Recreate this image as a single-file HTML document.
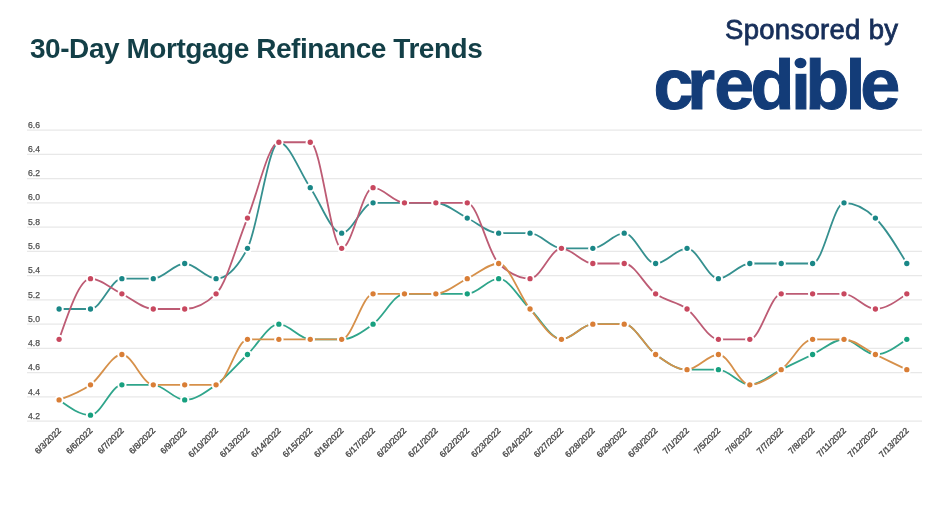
<!DOCTYPE html>
<html><head><meta charset="utf-8">
<style>
html,body{margin:0;padding:0;background:#fff;}
body{width:932px;height:524px;position:relative;overflow:hidden;font-family:"Liberation Sans",Arial,sans-serif;}
.title{position:absolute;left:30px;top:34.8px;font-size:28px;letter-spacing:-0.45px;font-weight:bold;color:#133f47;white-space:nowrap;line-height:1;}
.spons{position:absolute;left:725px;top:15.5px;font-size:27.5px;color:#172f5a;white-space:nowrap;line-height:1;-webkit-text-stroke:0.8px #172f5a;letter-spacing:0.3px;}
.logo{font-size:72px;font-weight:bold;fill:#133c78;stroke:#133c78;stroke-width:1px;}
svg{position:absolute;left:0;top:0;}
.yl{font-size:8.6px;fill:#505050;stroke:#505050;stroke-width:0.25px;}
.xl{font-size:8.5px;fill:#4a4a4a;stroke:#4a4a4a;stroke-width:0.35px;text-anchor:end;}
</style></head><body>
<div class="title">30-Day Mortgage Refinance Trends</div>
<div class="spons">Sponsored by</div>
<svg width="932" height="524" viewBox="0 0 932 524" font-family="Liberation Sans, Arial, sans-serif">
<line x1="27.0" x2="922.0" y1="130.10" y2="130.10" stroke="#e8e8e8" stroke-width="1.2"/>
<text class="yl" x="28.0" y="127.70">6.6</text>
<line x1="27.0" x2="922.0" y1="154.36" y2="154.36" stroke="#e8e8e8" stroke-width="1.2"/>
<text class="yl" x="28.0" y="151.96">6.4</text>
<line x1="27.0" x2="922.0" y1="178.62" y2="178.62" stroke="#e8e8e8" stroke-width="1.2"/>
<text class="yl" x="28.0" y="176.22">6.2</text>
<line x1="27.0" x2="922.0" y1="202.87" y2="202.87" stroke="#e8e8e8" stroke-width="1.2"/>
<text class="yl" x="28.0" y="200.47">6.0</text>
<line x1="27.0" x2="922.0" y1="227.13" y2="227.13" stroke="#e8e8e8" stroke-width="1.2"/>
<text class="yl" x="28.0" y="224.73">5.8</text>
<line x1="27.0" x2="922.0" y1="251.39" y2="251.39" stroke="#e8e8e8" stroke-width="1.2"/>
<text class="yl" x="28.0" y="248.99">5.6</text>
<line x1="27.0" x2="922.0" y1="275.65" y2="275.65" stroke="#e8e8e8" stroke-width="1.2"/>
<text class="yl" x="28.0" y="273.25">5.4</text>
<line x1="27.0" x2="922.0" y1="299.91" y2="299.91" stroke="#e8e8e8" stroke-width="1.2"/>
<text class="yl" x="28.0" y="297.51">5.2</text>
<line x1="27.0" x2="922.0" y1="324.17" y2="324.17" stroke="#e8e8e8" stroke-width="1.2"/>
<text class="yl" x="28.0" y="321.77">5.0</text>
<line x1="27.0" x2="922.0" y1="348.43" y2="348.43" stroke="#e8e8e8" stroke-width="1.2"/>
<text class="yl" x="28.0" y="346.03">4.8</text>
<line x1="27.0" x2="922.0" y1="372.68" y2="372.68" stroke="#e8e8e8" stroke-width="1.2"/>
<text class="yl" x="28.0" y="370.28">4.6</text>
<line x1="27.0" x2="922.0" y1="396.94" y2="396.94" stroke="#e8e8e8" stroke-width="1.2"/>
<text class="yl" x="28.0" y="394.54">4.4</text>
<line x1="27.0" x2="922.0" y1="421.20" y2="421.20" stroke="#e8e8e8" stroke-width="1.2"/>
<text class="yl" x="28.0" y="418.80">4.2</text>
<text class="xl" transform="translate(61.60,431.20) rotate(-45)">6/3/2022</text>
<text class="xl" transform="translate(93.00,431.20) rotate(-45)">6/6/2022</text>
<text class="xl" transform="translate(124.39,431.20) rotate(-45)">6/7/2022</text>
<text class="xl" transform="translate(155.79,431.20) rotate(-45)">6/8/2022</text>
<text class="xl" transform="translate(187.19,431.20) rotate(-45)">6/9/2022</text>
<text class="xl" transform="translate(218.58,431.20) rotate(-45)">6/10/2022</text>
<text class="xl" transform="translate(249.98,431.20) rotate(-45)">6/13/2022</text>
<text class="xl" transform="translate(281.37,431.20) rotate(-45)">6/14/2022</text>
<text class="xl" transform="translate(312.77,431.20) rotate(-45)">6/15/2022</text>
<text class="xl" transform="translate(344.17,431.20) rotate(-45)">6/16/2022</text>
<text class="xl" transform="translate(375.56,431.20) rotate(-45)">6/17/2022</text>
<text class="xl" transform="translate(406.96,431.20) rotate(-45)">6/20/2022</text>
<text class="xl" transform="translate(438.36,431.20) rotate(-45)">6/21/2022</text>
<text class="xl" transform="translate(469.75,431.20) rotate(-45)">6/22/2022</text>
<text class="xl" transform="translate(501.15,431.20) rotate(-45)">6/23/2022</text>
<text class="xl" transform="translate(532.54,431.20) rotate(-45)">6/24/2022</text>
<text class="xl" transform="translate(563.94,431.20) rotate(-45)">6/27/2022</text>
<text class="xl" transform="translate(595.34,431.20) rotate(-45)">6/28/2022</text>
<text class="xl" transform="translate(626.73,431.20) rotate(-45)">6/29/2022</text>
<text class="xl" transform="translate(658.13,431.20) rotate(-45)">6/30/2022</text>
<text class="xl" transform="translate(689.53,431.20) rotate(-45)">7/1/2022</text>
<text class="xl" transform="translate(720.92,431.20) rotate(-45)">7/5/2022</text>
<text class="xl" transform="translate(752.32,431.20) rotate(-45)">7/6/2022</text>
<text class="xl" transform="translate(783.71,431.20) rotate(-45)">7/7/2022</text>
<text class="xl" transform="translate(815.11,431.20) rotate(-45)">7/8/2022</text>
<text class="xl" transform="translate(846.51,431.20) rotate(-45)">7/11/2022</text>
<text class="xl" transform="translate(877.90,431.20) rotate(-45)">7/12/2022</text>
<text class="xl" transform="translate(909.30,431.20) rotate(-45)">7/13/2022</text>
<path d="M59.10,309.01C69.57,309.01,80.03,309.01,90.50,309.01C100.96,309.01,111.43,278.68,121.89,278.68C132.36,278.68,142.82,278.68,153.29,278.68C163.75,278.68,174.22,263.52,184.69,263.52C195.15,263.52,205.62,278.68,216.08,278.68C226.55,278.68,237.01,268.57,247.48,248.36C257.94,228.14,268.41,142.23,278.87,142.23C289.34,142.23,299.80,172.55,310.27,187.71C320.74,202.87,331.20,233.20,341.67,233.20C352.13,233.20,362.60,202.87,373.06,202.87C383.53,202.87,393.99,202.87,404.46,202.87C414.92,202.87,425.39,202.87,435.86,202.87C446.32,202.87,456.79,212.98,467.25,218.04C477.72,223.09,488.18,233.20,498.65,233.20C509.11,233.20,519.58,233.20,530.04,233.20C540.51,233.20,550.98,248.36,561.44,248.36C571.91,248.36,582.37,248.36,592.84,248.36C603.30,248.36,613.77,233.20,624.23,233.20C634.70,233.20,645.16,263.52,655.63,263.52C666.10,263.52,676.56,248.36,687.03,248.36C697.49,248.36,707.96,278.68,718.42,278.68C728.89,278.68,739.35,263.52,749.82,263.52C760.28,263.52,770.75,263.52,781.21,263.52C791.68,263.52,802.15,263.52,812.61,263.52C823.08,263.52,833.54,202.87,844.01,202.87C854.47,202.87,864.94,207.93,875.40,218.04C885.87,228.14,896.33,245.83,906.80,263.52" fill="none" stroke="#35908f" stroke-width="1.8" stroke-linejoin="round" stroke-linecap="round"/>
<circle cx="59.10" cy="309.01" r="4.65" fill="#ffffff"/>
<circle cx="59.10" cy="309.01" r="2.65" fill="#1a8787"/>
<circle cx="90.50" cy="309.01" r="4.65" fill="#ffffff"/>
<circle cx="90.50" cy="309.01" r="2.65" fill="#1a8787"/>
<circle cx="121.89" cy="278.68" r="4.65" fill="#ffffff"/>
<circle cx="121.89" cy="278.68" r="2.65" fill="#1a8787"/>
<circle cx="153.29" cy="278.68" r="4.65" fill="#ffffff"/>
<circle cx="153.29" cy="278.68" r="2.65" fill="#1a8787"/>
<circle cx="184.69" cy="263.52" r="4.65" fill="#ffffff"/>
<circle cx="184.69" cy="263.52" r="2.65" fill="#1a8787"/>
<circle cx="216.08" cy="278.68" r="4.65" fill="#ffffff"/>
<circle cx="216.08" cy="278.68" r="2.65" fill="#1a8787"/>
<circle cx="247.48" cy="248.36" r="4.65" fill="#ffffff"/>
<circle cx="247.48" cy="248.36" r="2.65" fill="#1a8787"/>
<circle cx="278.87" cy="142.23" r="4.65" fill="#ffffff"/>
<circle cx="278.87" cy="142.23" r="2.65" fill="#1a8787"/>
<circle cx="310.27" cy="187.71" r="4.65" fill="#ffffff"/>
<circle cx="310.27" cy="187.71" r="2.65" fill="#1a8787"/>
<circle cx="341.67" cy="233.20" r="4.65" fill="#ffffff"/>
<circle cx="341.67" cy="233.20" r="2.65" fill="#1a8787"/>
<circle cx="373.06" cy="202.87" r="4.65" fill="#ffffff"/>
<circle cx="373.06" cy="202.87" r="2.65" fill="#1a8787"/>
<circle cx="404.46" cy="202.87" r="4.65" fill="#ffffff"/>
<circle cx="404.46" cy="202.87" r="2.65" fill="#1a8787"/>
<circle cx="435.86" cy="202.87" r="4.65" fill="#ffffff"/>
<circle cx="435.86" cy="202.87" r="2.65" fill="#1a8787"/>
<circle cx="467.25" cy="218.04" r="4.65" fill="#ffffff"/>
<circle cx="467.25" cy="218.04" r="2.65" fill="#1a8787"/>
<circle cx="498.65" cy="233.20" r="4.65" fill="#ffffff"/>
<circle cx="498.65" cy="233.20" r="2.65" fill="#1a8787"/>
<circle cx="530.04" cy="233.20" r="4.65" fill="#ffffff"/>
<circle cx="530.04" cy="233.20" r="2.65" fill="#1a8787"/>
<circle cx="561.44" cy="248.36" r="4.65" fill="#ffffff"/>
<circle cx="561.44" cy="248.36" r="2.65" fill="#1a8787"/>
<circle cx="592.84" cy="248.36" r="4.65" fill="#ffffff"/>
<circle cx="592.84" cy="248.36" r="2.65" fill="#1a8787"/>
<circle cx="624.23" cy="233.20" r="4.65" fill="#ffffff"/>
<circle cx="624.23" cy="233.20" r="2.65" fill="#1a8787"/>
<circle cx="655.63" cy="263.52" r="4.65" fill="#ffffff"/>
<circle cx="655.63" cy="263.52" r="2.65" fill="#1a8787"/>
<circle cx="687.03" cy="248.36" r="4.65" fill="#ffffff"/>
<circle cx="687.03" cy="248.36" r="2.65" fill="#1a8787"/>
<circle cx="718.42" cy="278.68" r="4.65" fill="#ffffff"/>
<circle cx="718.42" cy="278.68" r="2.65" fill="#1a8787"/>
<circle cx="749.82" cy="263.52" r="4.65" fill="#ffffff"/>
<circle cx="749.82" cy="263.52" r="2.65" fill="#1a8787"/>
<circle cx="781.21" cy="263.52" r="4.65" fill="#ffffff"/>
<circle cx="781.21" cy="263.52" r="2.65" fill="#1a8787"/>
<circle cx="812.61" cy="263.52" r="4.65" fill="#ffffff"/>
<circle cx="812.61" cy="263.52" r="2.65" fill="#1a8787"/>
<circle cx="844.01" cy="202.87" r="4.65" fill="#ffffff"/>
<circle cx="844.01" cy="202.87" r="2.65" fill="#1a8787"/>
<circle cx="875.40" cy="218.04" r="4.65" fill="#ffffff"/>
<circle cx="875.40" cy="218.04" r="2.65" fill="#1a8787"/>
<circle cx="906.80" cy="263.52" r="4.65" fill="#ffffff"/>
<circle cx="906.80" cy="263.52" r="2.65" fill="#1a8787"/>
<path d="M59.10,339.33C69.57,309.01,80.03,278.68,90.50,278.68C100.96,278.68,111.43,288.79,121.89,293.84C132.36,298.90,142.82,309.01,153.29,309.01C163.75,309.01,174.22,309.01,184.69,309.01C195.15,309.01,205.62,303.95,216.08,293.84C226.55,283.74,237.01,243.31,247.48,218.04C257.94,192.77,268.41,142.23,278.87,142.23C289.34,142.23,299.80,142.23,310.27,142.23C320.74,142.23,331.20,248.36,341.67,248.36C352.13,248.36,362.60,187.71,373.06,187.71C383.53,187.71,393.99,202.87,404.46,202.87C414.92,202.87,425.39,202.87,435.86,202.87C446.32,202.87,456.79,202.87,467.25,202.87C477.72,202.87,488.18,253.41,498.65,263.52C509.11,273.63,519.58,278.68,530.04,278.68C540.51,278.68,550.98,248.36,561.44,248.36C571.91,248.36,582.37,263.52,592.84,263.52C603.30,263.52,613.77,263.52,624.23,263.52C634.70,263.52,645.16,286.26,655.63,293.84C666.10,301.42,676.56,301.42,687.03,309.01C697.49,316.59,707.96,339.33,718.42,339.33C728.89,339.33,739.35,339.33,749.82,339.33C760.28,339.33,770.75,293.84,781.21,293.84C791.68,293.84,802.15,293.84,812.61,293.84C823.08,293.84,833.54,293.84,844.01,293.84C854.47,293.84,864.94,309.01,875.40,309.01C885.87,309.01,896.33,301.42,906.80,293.84" fill="none" stroke="#bd5b74" stroke-width="1.8" stroke-linejoin="round" stroke-linecap="round"/>
<circle cx="59.10" cy="339.33" r="4.65" fill="#ffffff"/>
<circle cx="59.10" cy="339.33" r="2.65" fill="#c8485f"/>
<circle cx="90.50" cy="278.68" r="4.65" fill="#ffffff"/>
<circle cx="90.50" cy="278.68" r="2.65" fill="#c8485f"/>
<circle cx="121.89" cy="293.84" r="4.65" fill="#ffffff"/>
<circle cx="121.89" cy="293.84" r="2.65" fill="#c8485f"/>
<circle cx="153.29" cy="309.01" r="4.65" fill="#ffffff"/>
<circle cx="153.29" cy="309.01" r="2.65" fill="#c8485f"/>
<circle cx="184.69" cy="309.01" r="4.65" fill="#ffffff"/>
<circle cx="184.69" cy="309.01" r="2.65" fill="#c8485f"/>
<circle cx="216.08" cy="293.84" r="4.65" fill="#ffffff"/>
<circle cx="216.08" cy="293.84" r="2.65" fill="#c8485f"/>
<circle cx="247.48" cy="218.04" r="4.65" fill="#ffffff"/>
<circle cx="247.48" cy="218.04" r="2.65" fill="#c8485f"/>
<circle cx="278.87" cy="142.23" r="4.65" fill="#ffffff"/>
<circle cx="278.87" cy="142.23" r="2.65" fill="#c8485f"/>
<circle cx="310.27" cy="142.23" r="4.65" fill="#ffffff"/>
<circle cx="310.27" cy="142.23" r="2.65" fill="#c8485f"/>
<circle cx="341.67" cy="248.36" r="4.65" fill="#ffffff"/>
<circle cx="341.67" cy="248.36" r="2.65" fill="#c8485f"/>
<circle cx="373.06" cy="187.71" r="4.65" fill="#ffffff"/>
<circle cx="373.06" cy="187.71" r="2.65" fill="#c8485f"/>
<circle cx="404.46" cy="202.87" r="4.65" fill="#ffffff"/>
<circle cx="404.46" cy="202.87" r="2.65" fill="#c8485f"/>
<circle cx="435.86" cy="202.87" r="4.65" fill="#ffffff"/>
<circle cx="435.86" cy="202.87" r="2.65" fill="#c8485f"/>
<circle cx="467.25" cy="202.87" r="4.65" fill="#ffffff"/>
<circle cx="467.25" cy="202.87" r="2.65" fill="#c8485f"/>
<circle cx="498.65" cy="263.52" r="4.65" fill="#ffffff"/>
<circle cx="498.65" cy="263.52" r="2.65" fill="#c8485f"/>
<circle cx="530.04" cy="278.68" r="4.65" fill="#ffffff"/>
<circle cx="530.04" cy="278.68" r="2.65" fill="#c8485f"/>
<circle cx="561.44" cy="248.36" r="4.65" fill="#ffffff"/>
<circle cx="561.44" cy="248.36" r="2.65" fill="#c8485f"/>
<circle cx="592.84" cy="263.52" r="4.65" fill="#ffffff"/>
<circle cx="592.84" cy="263.52" r="2.65" fill="#c8485f"/>
<circle cx="624.23" cy="263.52" r="4.65" fill="#ffffff"/>
<circle cx="624.23" cy="263.52" r="2.65" fill="#c8485f"/>
<circle cx="655.63" cy="293.84" r="4.65" fill="#ffffff"/>
<circle cx="655.63" cy="293.84" r="2.65" fill="#c8485f"/>
<circle cx="687.03" cy="309.01" r="4.65" fill="#ffffff"/>
<circle cx="687.03" cy="309.01" r="2.65" fill="#c8485f"/>
<circle cx="718.42" cy="339.33" r="4.65" fill="#ffffff"/>
<circle cx="718.42" cy="339.33" r="2.65" fill="#c8485f"/>
<circle cx="749.82" cy="339.33" r="4.65" fill="#ffffff"/>
<circle cx="749.82" cy="339.33" r="2.65" fill="#c8485f"/>
<circle cx="781.21" cy="293.84" r="4.65" fill="#ffffff"/>
<circle cx="781.21" cy="293.84" r="2.65" fill="#c8485f"/>
<circle cx="812.61" cy="293.84" r="4.65" fill="#ffffff"/>
<circle cx="812.61" cy="293.84" r="2.65" fill="#c8485f"/>
<circle cx="844.01" cy="293.84" r="4.65" fill="#ffffff"/>
<circle cx="844.01" cy="293.84" r="2.65" fill="#c8485f"/>
<circle cx="875.40" cy="309.01" r="4.65" fill="#ffffff"/>
<circle cx="875.40" cy="309.01" r="2.65" fill="#c8485f"/>
<circle cx="906.80" cy="293.84" r="4.65" fill="#ffffff"/>
<circle cx="906.80" cy="293.84" r="2.65" fill="#c8485f"/>
<path d="M59.10,399.97C69.57,407.55,80.03,415.14,90.50,415.14C100.96,415.14,111.43,384.81,121.89,384.81C132.36,384.81,142.82,384.81,153.29,384.81C163.75,384.81,174.22,399.97,184.69,399.97C195.15,399.97,205.62,392.39,216.08,384.81C226.55,377.23,237.01,364.60,247.48,354.49C257.94,344.38,268.41,324.17,278.87,324.17C289.34,324.17,299.80,339.33,310.27,339.33C320.74,339.33,331.20,339.33,341.67,339.33C352.13,339.33,362.60,331.75,373.06,324.17C383.53,316.59,393.99,293.84,404.46,293.84C414.92,293.84,425.39,293.84,435.86,293.84C446.32,293.84,456.79,293.84,467.25,293.84C477.72,293.84,488.18,278.68,498.65,278.68C509.11,278.68,519.58,298.90,530.04,309.01C540.51,319.11,550.98,339.33,561.44,339.33C571.91,339.33,582.37,324.17,592.84,324.17C603.30,324.17,613.77,324.17,624.23,324.17C634.70,324.17,645.16,346.91,655.63,354.49C666.10,362.07,676.56,369.65,687.03,369.65C697.49,369.65,707.96,369.65,718.42,369.65C728.89,369.65,739.35,384.81,749.82,384.81C760.28,384.81,770.75,374.70,781.21,369.65C791.68,364.60,802.15,359.54,812.61,354.49C823.08,349.44,833.54,339.33,844.01,339.33C854.47,339.33,864.94,354.49,875.40,354.49C885.87,354.49,896.33,346.91,906.80,339.33" fill="none" stroke="#2fa58b" stroke-width="1.8" stroke-linejoin="round" stroke-linecap="round"/>
<circle cx="59.10" cy="399.97" r="4.65" fill="#ffffff"/>
<circle cx="59.10" cy="399.97" r="2.65" fill="#17a07f"/>
<circle cx="90.50" cy="415.14" r="4.65" fill="#ffffff"/>
<circle cx="90.50" cy="415.14" r="2.65" fill="#17a07f"/>
<circle cx="121.89" cy="384.81" r="4.65" fill="#ffffff"/>
<circle cx="121.89" cy="384.81" r="2.65" fill="#17a07f"/>
<circle cx="153.29" cy="384.81" r="4.65" fill="#ffffff"/>
<circle cx="153.29" cy="384.81" r="2.65" fill="#17a07f"/>
<circle cx="184.69" cy="399.97" r="4.65" fill="#ffffff"/>
<circle cx="184.69" cy="399.97" r="2.65" fill="#17a07f"/>
<circle cx="216.08" cy="384.81" r="4.65" fill="#ffffff"/>
<circle cx="216.08" cy="384.81" r="2.65" fill="#17a07f"/>
<circle cx="247.48" cy="354.49" r="4.65" fill="#ffffff"/>
<circle cx="247.48" cy="354.49" r="2.65" fill="#17a07f"/>
<circle cx="278.87" cy="324.17" r="4.65" fill="#ffffff"/>
<circle cx="278.87" cy="324.17" r="2.65" fill="#17a07f"/>
<circle cx="310.27" cy="339.33" r="4.65" fill="#ffffff"/>
<circle cx="310.27" cy="339.33" r="2.65" fill="#17a07f"/>
<circle cx="341.67" cy="339.33" r="4.65" fill="#ffffff"/>
<circle cx="341.67" cy="339.33" r="2.65" fill="#17a07f"/>
<circle cx="373.06" cy="324.17" r="4.65" fill="#ffffff"/>
<circle cx="373.06" cy="324.17" r="2.65" fill="#17a07f"/>
<circle cx="404.46" cy="293.84" r="4.65" fill="#ffffff"/>
<circle cx="404.46" cy="293.84" r="2.65" fill="#17a07f"/>
<circle cx="435.86" cy="293.84" r="4.65" fill="#ffffff"/>
<circle cx="435.86" cy="293.84" r="2.65" fill="#17a07f"/>
<circle cx="467.25" cy="293.84" r="4.65" fill="#ffffff"/>
<circle cx="467.25" cy="293.84" r="2.65" fill="#17a07f"/>
<circle cx="498.65" cy="278.68" r="4.65" fill="#ffffff"/>
<circle cx="498.65" cy="278.68" r="2.65" fill="#17a07f"/>
<circle cx="530.04" cy="309.01" r="4.65" fill="#ffffff"/>
<circle cx="530.04" cy="309.01" r="2.65" fill="#17a07f"/>
<circle cx="561.44" cy="339.33" r="4.65" fill="#ffffff"/>
<circle cx="561.44" cy="339.33" r="2.65" fill="#17a07f"/>
<circle cx="592.84" cy="324.17" r="4.65" fill="#ffffff"/>
<circle cx="592.84" cy="324.17" r="2.65" fill="#17a07f"/>
<circle cx="624.23" cy="324.17" r="4.65" fill="#ffffff"/>
<circle cx="624.23" cy="324.17" r="2.65" fill="#17a07f"/>
<circle cx="655.63" cy="354.49" r="4.65" fill="#ffffff"/>
<circle cx="655.63" cy="354.49" r="2.65" fill="#17a07f"/>
<circle cx="687.03" cy="369.65" r="4.65" fill="#ffffff"/>
<circle cx="687.03" cy="369.65" r="2.65" fill="#17a07f"/>
<circle cx="718.42" cy="369.65" r="4.65" fill="#ffffff"/>
<circle cx="718.42" cy="369.65" r="2.65" fill="#17a07f"/>
<circle cx="749.82" cy="384.81" r="4.65" fill="#ffffff"/>
<circle cx="749.82" cy="384.81" r="2.65" fill="#17a07f"/>
<circle cx="781.21" cy="369.65" r="4.65" fill="#ffffff"/>
<circle cx="781.21" cy="369.65" r="2.65" fill="#17a07f"/>
<circle cx="812.61" cy="354.49" r="4.65" fill="#ffffff"/>
<circle cx="812.61" cy="354.49" r="2.65" fill="#17a07f"/>
<circle cx="844.01" cy="339.33" r="4.65" fill="#ffffff"/>
<circle cx="844.01" cy="339.33" r="2.65" fill="#17a07f"/>
<circle cx="875.40" cy="354.49" r="4.65" fill="#ffffff"/>
<circle cx="875.40" cy="354.49" r="2.65" fill="#17a07f"/>
<circle cx="906.80" cy="339.33" r="4.65" fill="#ffffff"/>
<circle cx="906.80" cy="339.33" r="2.65" fill="#17a07f"/>
<path d="M59.10,399.97C69.57,396.18,80.03,392.39,90.50,384.81C100.96,377.23,111.43,354.49,121.89,354.49C132.36,354.49,142.82,384.81,153.29,384.81C163.75,384.81,174.22,384.81,184.69,384.81C195.15,384.81,205.62,384.81,216.08,384.81C226.55,384.81,237.01,339.33,247.48,339.33C257.94,339.33,268.41,339.33,278.87,339.33C289.34,339.33,299.80,339.33,310.27,339.33C320.74,339.33,331.20,339.33,341.67,339.33C352.13,339.33,362.60,293.84,373.06,293.84C383.53,293.84,393.99,293.84,404.46,293.84C414.92,293.84,425.39,293.84,435.86,293.84C446.32,293.84,456.79,283.74,467.25,278.68C477.72,273.63,488.18,263.52,498.65,263.52C509.11,263.52,519.58,296.37,530.04,309.01C540.51,321.64,550.98,339.33,561.44,339.33C571.91,339.33,582.37,324.17,592.84,324.17C603.30,324.17,613.77,324.17,624.23,324.17C634.70,324.17,645.16,346.91,655.63,354.49C666.10,362.07,676.56,369.65,687.03,369.65C697.49,369.65,707.96,354.49,718.42,354.49C728.89,354.49,739.35,384.81,749.82,384.81C760.28,384.81,770.75,377.23,781.21,369.65C791.68,362.07,802.15,339.33,812.61,339.33C823.08,339.33,833.54,339.33,844.01,339.33C854.47,339.33,864.94,349.44,875.40,354.49C885.87,359.54,896.33,364.60,906.80,369.65" fill="none" stroke="#d6904a" stroke-width="1.8" stroke-linejoin="round" stroke-linecap="round"/>
<circle cx="59.10" cy="399.97" r="4.65" fill="#ffffff"/>
<circle cx="59.10" cy="399.97" r="2.65" fill="#d97e36"/>
<circle cx="90.50" cy="384.81" r="4.65" fill="#ffffff"/>
<circle cx="90.50" cy="384.81" r="2.65" fill="#d97e36"/>
<circle cx="121.89" cy="354.49" r="4.65" fill="#ffffff"/>
<circle cx="121.89" cy="354.49" r="2.65" fill="#d97e36"/>
<circle cx="153.29" cy="384.81" r="4.65" fill="#ffffff"/>
<circle cx="153.29" cy="384.81" r="2.65" fill="#d97e36"/>
<circle cx="184.69" cy="384.81" r="4.65" fill="#ffffff"/>
<circle cx="184.69" cy="384.81" r="2.65" fill="#d97e36"/>
<circle cx="216.08" cy="384.81" r="4.65" fill="#ffffff"/>
<circle cx="216.08" cy="384.81" r="2.65" fill="#d97e36"/>
<circle cx="247.48" cy="339.33" r="4.65" fill="#ffffff"/>
<circle cx="247.48" cy="339.33" r="2.65" fill="#d97e36"/>
<circle cx="278.87" cy="339.33" r="4.65" fill="#ffffff"/>
<circle cx="278.87" cy="339.33" r="2.65" fill="#d97e36"/>
<circle cx="310.27" cy="339.33" r="4.65" fill="#ffffff"/>
<circle cx="310.27" cy="339.33" r="2.65" fill="#d97e36"/>
<circle cx="341.67" cy="339.33" r="4.65" fill="#ffffff"/>
<circle cx="341.67" cy="339.33" r="2.65" fill="#d97e36"/>
<circle cx="373.06" cy="293.84" r="4.65" fill="#ffffff"/>
<circle cx="373.06" cy="293.84" r="2.65" fill="#d97e36"/>
<circle cx="404.46" cy="293.84" r="4.65" fill="#ffffff"/>
<circle cx="404.46" cy="293.84" r="2.65" fill="#d97e36"/>
<circle cx="435.86" cy="293.84" r="4.65" fill="#ffffff"/>
<circle cx="435.86" cy="293.84" r="2.65" fill="#d97e36"/>
<circle cx="467.25" cy="278.68" r="4.65" fill="#ffffff"/>
<circle cx="467.25" cy="278.68" r="2.65" fill="#d97e36"/>
<circle cx="498.65" cy="263.52" r="4.65" fill="#ffffff"/>
<circle cx="498.65" cy="263.52" r="2.65" fill="#d97e36"/>
<circle cx="530.04" cy="309.01" r="4.65" fill="#ffffff"/>
<circle cx="530.04" cy="309.01" r="2.65" fill="#d97e36"/>
<circle cx="561.44" cy="339.33" r="4.65" fill="#ffffff"/>
<circle cx="561.44" cy="339.33" r="2.65" fill="#d97e36"/>
<circle cx="592.84" cy="324.17" r="4.65" fill="#ffffff"/>
<circle cx="592.84" cy="324.17" r="2.65" fill="#d97e36"/>
<circle cx="624.23" cy="324.17" r="4.65" fill="#ffffff"/>
<circle cx="624.23" cy="324.17" r="2.65" fill="#d97e36"/>
<circle cx="655.63" cy="354.49" r="4.65" fill="#ffffff"/>
<circle cx="655.63" cy="354.49" r="2.65" fill="#d97e36"/>
<circle cx="687.03" cy="369.65" r="4.65" fill="#ffffff"/>
<circle cx="687.03" cy="369.65" r="2.65" fill="#d97e36"/>
<circle cx="718.42" cy="354.49" r="4.65" fill="#ffffff"/>
<circle cx="718.42" cy="354.49" r="2.65" fill="#d97e36"/>
<circle cx="749.82" cy="384.81" r="4.65" fill="#ffffff"/>
<circle cx="749.82" cy="384.81" r="2.65" fill="#d97e36"/>
<circle cx="781.21" cy="369.65" r="4.65" fill="#ffffff"/>
<circle cx="781.21" cy="369.65" r="2.65" fill="#d97e36"/>
<circle cx="812.61" cy="339.33" r="4.65" fill="#ffffff"/>
<circle cx="812.61" cy="339.33" r="2.65" fill="#d97e36"/>
<circle cx="844.01" cy="339.33" r="4.65" fill="#ffffff"/>
<circle cx="844.01" cy="339.33" r="2.65" fill="#d97e36"/>
<circle cx="875.40" cy="354.49" r="4.65" fill="#ffffff"/>
<circle cx="875.40" cy="354.49" r="2.65" fill="#d97e36"/>
<circle cx="906.80" cy="369.65" r="4.65" fill="#ffffff"/>
<circle cx="906.80" cy="369.65" r="2.65" fill="#d97e36"/>
<text class="logo" x="653.5 687.05 714.2 750.45 790.9 805.26 845.6 860.3" y="108.6">credible</text>
<rect x="740" y="48" width="165" height="9.6" fill="#fff"/>
<rect x="794.6" y="54.6" width="12.4" height="19.2" fill="#fff"/>
<ellipse cx="800.5" cy="63" rx="6" ry="5.2" fill="#133c78"/>
</svg>
</body></html>
